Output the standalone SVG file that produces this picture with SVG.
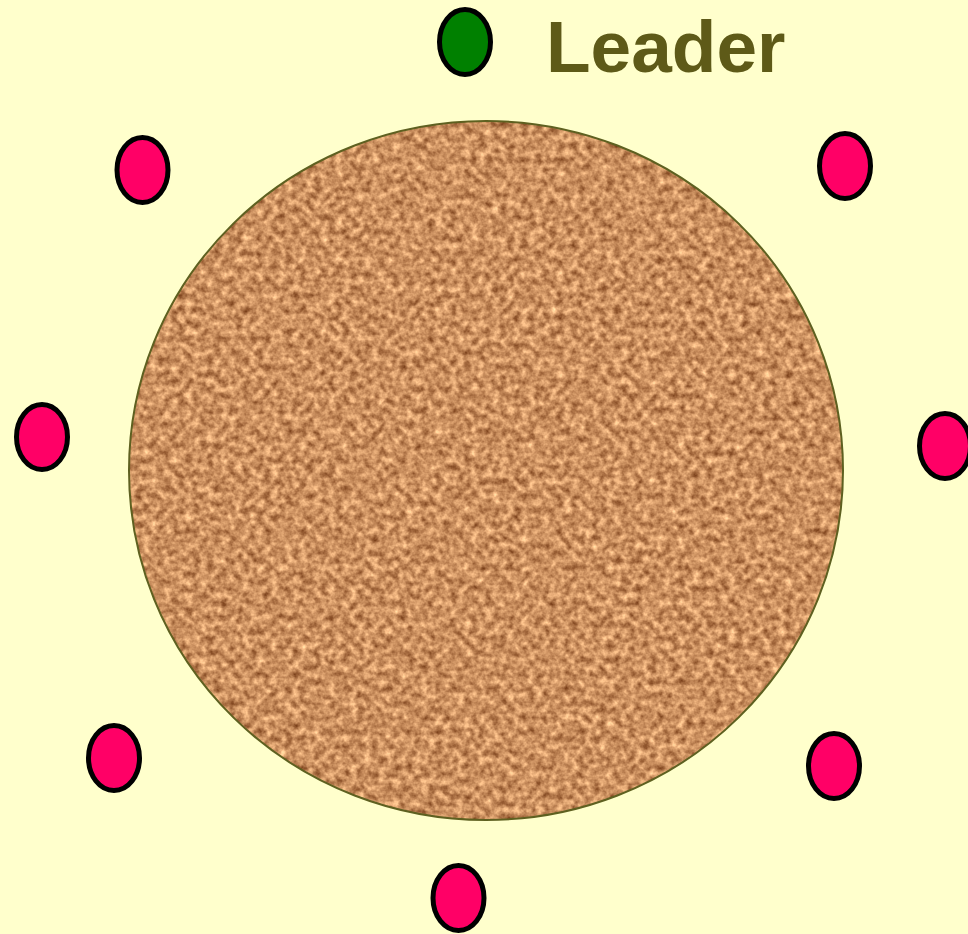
<svg xmlns="http://www.w3.org/2000/svg" width="968" height="934" viewBox="0 0 968 934">
<style>
.member{fill:#FF0066;stroke:#000;stroke-width:5}
.leader{fill:#008000;stroke:#000;stroke-width:5}
.label{font-family:"Liberation Sans",Arial,sans-serif;font-weight:bold;font-size:73px;fill:#5E5A18}
</style>
<defs>
<filter id="cork" x="0" y="0" width="1" height="1" color-interpolation-filters="sRGB">
<feTurbulence type="fractalNoise" baseFrequency="0.14" numOctaves="3" seed="7" result="n"/>
<feColorMatrix in="n" type="matrix" values="0.75 0 0 0 0.42  0.75 0 0 0 0.19  0.65 0 0 0 0.05  0 0 0 0 1" result="c"/>
<feComposite in="c" in2="SourceGraphic" operator="in"/>
</filter>
</defs>
<rect width="968" height="934" fill="#FFFFCC"/>
<g id="table">
<ellipse cx="486" cy="470.5" rx="357" ry="349.5" fill="#C89060"/>
<ellipse cx="486" cy="470.5" rx="357" ry="349.5" fill="#C89060" filter="url(#cork)"/>
<ellipse cx="486" cy="470.5" rx="357" ry="349.5" fill="none" stroke="#5E6020" stroke-width="2"/>
</g>
<g id="leader">
<ellipse class="leader" cx="465" cy="42" rx="25.5" ry="32.5"/>
<text class="label" x="546" y="72">Leader</text>
</g>
<g id="m1"><ellipse class="member" cx="142.5" cy="170" rx="25.5" ry="32.5"/></g>
<g id="m2"><ellipse class="member" cx="845" cy="166" rx="25.5" ry="32.5"/></g>
<g id="m3"><ellipse class="member" cx="42" cy="437" rx="25.5" ry="32.5"/></g>
<g id="m4"><ellipse class="member" cx="945" cy="446" rx="25.5" ry="32.5"/></g>
<g id="m5"><ellipse class="member" cx="114" cy="758" rx="25.5" ry="32.5"/></g>
<g id="m6"><ellipse class="member" cx="834" cy="766" rx="25.5" ry="32.5"/></g>
<g id="m7"><ellipse class="member" cx="458.5" cy="898" rx="25.5" ry="32.5"/></g>
<g id="connectors"/>
</svg>
